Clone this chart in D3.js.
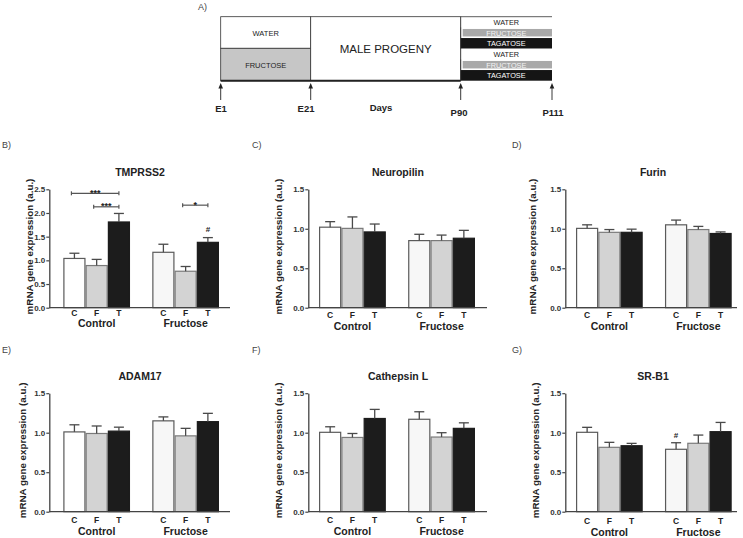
<!DOCTYPE html>
<html><head><meta charset="utf-8">
<script src="https://cdn.jsdelivr.net/npm/d3@7"></script>
<style>body{margin:0;background:#fff}svg{display:block}</style>
</head><body>
<svg id="c" width="743" height="538"></svg>
<script>
// ---------------- data ----------------
const groups = ["Control", "Fructose"];
const treatments = ["C", "F", "T"];
const genes = ["TMPRSS2", "Neuropilin", "Furin", "ADAM17", "Cathepsin L", "SR-B1"];
const panelLetters = ["B)", "C)", "D)", "E)", "F)", "G)"];
// order: Control C,F,T then Fructose C,F,T
const tmprss2Mean = [1.04, 0.89, 1.81, 1.17, 0.77, 1.38];
const tmprss2Sem  = [0.11, 0.13, 0.18, 0.17, 0.10, 0.10];
const neuropilinMean = [1.02, 1.005, 0.96, 0.85, 0.85, 0.88];
const neuropilinSem  = [0.07, 0.145, 0.10, 0.08, 0.07, 0.10];
const furinMean = [1.005, 0.955, 0.955, 1.05, 0.99, 0.94];
const furinSem  = [0.045, 0.035, 0.04, 0.06, 0.04, 0.02];
const adam17Mean = [1.01, 0.99, 1.02, 1.15, 0.96, 1.14];
const adam17Sem  = [0.09, 0.095, 0.05, 0.05, 0.095, 0.105];
const cathepsinMean = [1.005, 0.94, 1.18, 1.17, 0.945, 1.055];
const cathepsinSem  = [0.07, 0.05, 0.115, 0.095, 0.055, 0.07];
const srb1Mean = [1.005, 0.815, 0.835, 0.79, 0.866, 1.013];
const srb1Sem  = [0.063, 0.063, 0.03, 0.083, 0.104, 0.117];
const tmprssTicks = [0, 0.5, 1.0, 1.5, 2.0, 2.5];
const otherTicks = [0, 0.5, 1.0, 1.5];
// significance marks (TMPRSS2 and SR-B1)
const brackets = [
  {panel: 0, from: "Control-C", to: "Control-T", value: 2.415, label: "***"},
  {panel: 0, from: "Control-F", to: "Control-T", value: 2.13, label: "***"},
  {panel: 0, from: "Fructose-F", to: "Fructose-T", value: 2.165, label: "*"}
];
const hashMarks = [
  {panel: 0, bar: "Fructose-T", value: 1.6},
  {panel: 5, bar: "Fructose-C", value: 0.93}
];
// timeline (panel A)
const timelineLabels = ["E1", "E21", "Days", "P90", "P111"];
const prenatalRows = ["WATER", "FRUCTOSE"];
const postRows = ["WATER", "FRUCTOSE", "TAGATOSE", "WATER", "FRUCTOSE", "TAGATOSE"];

const means = [tmprss2Mean, neuropilinMean, furinMean, adam17Mean, cathepsinMean, srb1Mean];
const sems = [tmprss2Sem, neuropilinSem, furinSem, adam17Sem, cathepsinSem, srb1Sem];

// ---------------- layout ----------------
const svg = d3.select("#c");
svg.append("rect").attr("width", 743).attr("height", 538).attr("fill", "#fff");
const FONT = "Liberation Sans, Arial, sans-serif";

const colLayout = [
  {axisX: 49.3, x0: 63.3, x1: 219, axisEnd: 230, titleX: 140, letterX: 2},
  {axisX: 308.3, x0: 319, x1: 475, axisEnd: 487, titleX: 398, letterX: 252},
  {axisX: 565.3, x0: 576, x1: 731.7, axisEnd: 737, titleX: 653, letterX: 512}
];
const ylabelXs = [33, 282, 536, 26, 282, 539];
const catDys = [[8, 19.5], [10, 22], [10, 22], [11.5, 23.5], [11.5, 23.5], [12, 24.5]];
const rowLayout = [
  {yTop: 189.3, yBottom: 307.7, titleY: 175.5, letterY: 148},
  {yTop: 393.2, yBottom: 511.7, titleY: 380, letterY: 353}
];
const slotKeys = ["Control-C", "Control-F", "Control-T", "gap", "Fructose-C", "Fructose-F", "Fructose-T"];
const fills = {"Control-C": "#ffffff", "Control-F": "#d3d3d3", "Control-T": "#1c1c1c",
  "Fructose-C": "#f7f7f7", "Fructose-F": "#d3d3d3", "Fructose-T": "#1c1c1c"};
const strokes = {C: "#5a5a5a", F: "#7a7a7a", T: "#1c1c1c"};

genes.forEach((gene, i) => {
  const col = colLayout[i % 3], row = rowLayout[Math.floor(i / 3)];
  const ticks = i === 0 ? tmprssTicks : otherTicks;
  const y = d3.scaleLinear().domain([0, d3.max(ticks)]).range([row.yBottom, row.yTop]);
  const x = d3.scaleBand().domain(slotKeys).range([col.x0, col.x1]).padding(0);
  const g = svg.append("g");
  const catDy = catDys[i];

  const data = [];
  groups.forEach((grp, gi) => treatments.forEach((t, ti) => {
    const k = gi * 3 + ti;
    data.push({key: grp + "-" + t, t, mean: means[i][k], sem: sems[i][k]});
  }));

  // bars
  g.selectAll("rect.bar").data(data).join("rect")
    .attr("x", d => x(d.key) + 0.6).attr("width", x.bandwidth() - 1.2)
    .attr("y", d => y(d.mean)).attr("height", d => y(0) - y(d.mean))
    .attr("fill", d => fills[d.key]).attr("stroke", d => strokes[d.t]).attr("stroke-width", 1.2);

  // error bars (upper only)
  const eb = g.selectAll("g.eb").data(data).join("g").attr("stroke", "#4a4a4a").attr("stroke-width", 1.3);
  eb.append("line").attr("x1", d => x(d.key) + x.bandwidth() / 2).attr("x2", d => x(d.key) + x.bandwidth() / 2)
    .attr("y1", d => y(d.mean)).attr("y2", d => y(d.mean + d.sem));
  eb.append("line").attr("x1", d => x(d.key) + x.bandwidth() / 2 - 5).attr("x2", d => x(d.key) + x.bandwidth() / 2 + 5)
    .attr("y1", d => y(d.mean + d.sem)).attr("y2", d => y(d.mean + d.sem));

  // y axis
  const ax = g.append("g").attr("transform", `translate(${col.axisX},0)`)
    .call(d3.axisLeft(y).tickValues(ticks).tickSize(3).tickSizeOuter(0).tickFormat(d3.format(".1f")));
  ax.select(".domain").attr("stroke", "#444").attr("stroke-width", 1.3);
  ax.selectAll(".tick line").attr("stroke", "#444").attr("stroke-width", 1.2);
  ax.selectAll(".tick text").attr("font-family", FONT).attr("font-weight", "bold")
    .attr("font-size", 8).attr("fill", "#333").attr("x", -4);
  // x axis line
  g.append("line").attr("x1", col.axisX).attr("x2", col.axisEnd)
    .attr("y1", y(0)).attr("y2", y(0)).attr("stroke", "#444").attr("stroke-width", 1.3);

  // category labels
  g.selectAll("text.cat").data(data).join("text")
    .attr("x", d => x(d.key) + x.bandwidth() / 2).attr("y", row.yBottom + catDy[0])
    .attr("text-anchor", "middle").attr("font-family", FONT).attr("font-weight", "bold")
    .attr("font-size", 8.5).attr("fill", "#222").text(d => d.t);
  groups.forEach(grp => {
    g.append("text").attr("x", x(grp + "-F") + x.bandwidth() / 2).attr("y", row.yBottom + catDy[1])
      .attr("text-anchor", "middle").attr("font-family", FONT).attr("font-weight", "bold")
      .attr("font-size", 10.5).attr("fill", "#222").text(grp);
  });

  // y label
  g.append("text").attr("transform", `translate(${ylabelXs[i]},${(row.yTop + row.yBottom) / 2 - 2}) rotate(-90)`)
    .attr("text-anchor", "middle").attr("font-family", FONT).attr("font-weight", "bold")
    .attr("font-size", 9.8).attr("fill", "#222").text("mRNA gene expression (a.u.)");

  // title
  g.append("text").attr("x", col.titleX).attr("y", row.titleY).attr("text-anchor", "middle")
    .attr("font-family", FONT).attr("font-weight", "bold").attr("font-size", 10.5).attr("fill", "#222").text(gene);
  // panel letter
  g.append("text").attr("x", col.letterX).attr("y", row.letterY)
    .attr("font-family", FONT).attr("font-size", 9).attr("fill", "#444").text(panelLetters[i]);

  // significance brackets
  brackets.filter(b => b.panel === i).forEach(b => {
    const xa = x(b.from) + x.bandwidth() / 2 - 3, xb = x(b.to) + x.bandwidth() / 2;
    const yy = y(b.value);
    const bg = g.append("g").attr("stroke", "#555").attr("stroke-width", 1.2);
    bg.append("line").attr("x1", xa).attr("x2", xb).attr("y1", yy).attr("y2", yy);
    bg.append("line").attr("x1", xa).attr("x2", xa).attr("y1", yy - 2).attr("y2", yy + 2);
    bg.append("line").attr("x1", xb).attr("x2", xb).attr("y1", yy - 2).attr("y2", yy + 2);
    g.append("text").attr("x", (xa + xb) / 2).attr("y", yy + 2.5).attr("text-anchor", "middle")
      .attr("font-family", FONT).attr("font-weight", "bold").attr("font-size", 9).attr("fill", "#222").text(b.label);
  });
  hashMarks.filter(h => h.panel === i).forEach(h => {
    g.append("text").attr("x", x(h.bar) + x.bandwidth() / 2).attr("y", y(h.value)).attr("text-anchor", "middle")
      .attr("font-family", FONT).attr("font-weight", "bold").attr("font-size", 8).attr("fill", "#222").text("#");
  });
});

// ---------------- panel A: timeline ----------------
const A = svg.append("g");
A.append("text").attr("x", 198).attr("y", 10).attr("font-family", FONT).attr("font-size", 9).attr("fill", "#444").text("A)");
const t = d3.scaleLinear().domain([0, 1, 2, 3]).range([220.7, 310.7, 460.7, 552]);
const boxTop = 16.7, boxBot = 80.7, split = 48.3;
A.append("rect").attr("x", t(0)).attr("y", boxTop).attr("width", t(1) - t(0)).attr("height", split - boxTop)
  .attr("fill", "#fff").attr("stroke", "#333").attr("stroke-width", 0.8);
A.append("rect").attr("x", t(0)).attr("y", split).attr("width", t(1) - t(0)).attr("height", boxBot - split)
  .attr("fill", "#c6c6c6").attr("stroke", "#333").attr("stroke-width", 0.8);
A.append("text").attr("x", (t(0) + t(1)) / 2).attr("y", (boxTop + split) / 2 + 3).attr("text-anchor", "middle")
  .attr("font-family", FONT).attr("font-size", 7.5).attr("fill", "#222").text(prenatalRows[0]);
A.append("text").attr("x", (t(0) + t(1)) / 2).attr("y", (split + boxBot) / 2 + 3).attr("text-anchor", "middle")
  .attr("font-family", FONT).attr("font-size", 7.5).attr("fill", "#222").text(prenatalRows[1]);
// male progeny
A.append("rect").attr("x", t(1)).attr("y", boxTop).attr("width", t(2) - t(1)).attr("height", boxBot - boxTop)
  .attr("fill", "#fff").attr("stroke", "#333").attr("stroke-width", 0.8);
A.append("text").attr("x", (t(1) + t(2)) / 2).attr("y", (boxTop + boxBot) / 2 + 4).attr("text-anchor", "middle")
  .attr("font-family", FONT).attr("font-size", 11.5).attr("fill", "#222").text("MALE PROGENY");
A.append("line").attr("x1", t(0)).attr("x2", t(2)).attr("y1", boxBot).attr("y2", boxBot)
  .attr("stroke", "#222").attr("stroke-width", 2);
// post-weaning stack
const rowY = d3.scaleBand().domain(d3.range(postRows.length)).range([boxTop, boxBot]);
postRows.forEach((r, k) => {
  const kind = r === "WATER" ? 0 : r === "FRUCTOSE" ? 1 : 2;
  const inset = kind === 1 ? 1.6 : 0;
  A.append("rect").attr("x", t(2) + (kind === 1 ? 2 : 0)).attr("y", rowY(k) + inset)
    .attr("width", t(3) - t(2) - (kind === 1 ? 2 : 0)).attr("height", rowY.bandwidth() - 2 * inset)
    .attr("fill", ["#fff", "#a9a9a9", "#151515"][kind]);
  A.append("text").attr("x", (t(2) + t(3)) / 2).attr("y", rowY(k) + rowY.bandwidth() / 2 + 2.8)
    .attr("text-anchor", "middle").attr("font-family", FONT).attr("font-size", 7.3)
    .attr("fill", ["#222", "#f4f4f4", "#fff"][kind]).text(r);
});
A.append("line").attr("x1", t(2)).attr("x2", t(3)).attr("y1", boxTop).attr("y2", boxTop).attr("stroke", "#333").attr("stroke-width", 0.8);
A.append("line").attr("x1", t(2)).attr("x2", t(2)).attr("y1", boxTop).attr("y2", boxBot).attr("stroke", "#333").attr("stroke-width", 0.8);
// arrows
[0, 1, 2, 3].forEach(k => {
  A.append("line").attr("x1", t(k)).attr("x2", t(k)).attr("y1", 100).attr("y2", 87).attr("stroke", "#222").attr("stroke-width", 0.9);
  A.append("path").attr("d", `M${t(k)},83 L${t(k) - 2.3},88.5 L${t(k) + 2.3},88.5 Z`).attr("fill", "#222");
});
const labX = [221, 306, 381, 459, 553];
const labY = [111.5, 111.5, 111, 115.5, 115.5];
timelineLabels.forEach((l, k) => {
  A.append("text").attr("x", labX[k]).attr("y", labY[k]).attr("text-anchor", "middle")
    .attr("font-family", FONT).attr("font-weight", "bold").attr("font-size", 9.5).attr("fill", "#222").text(l);
});
</script>
</body></html>
